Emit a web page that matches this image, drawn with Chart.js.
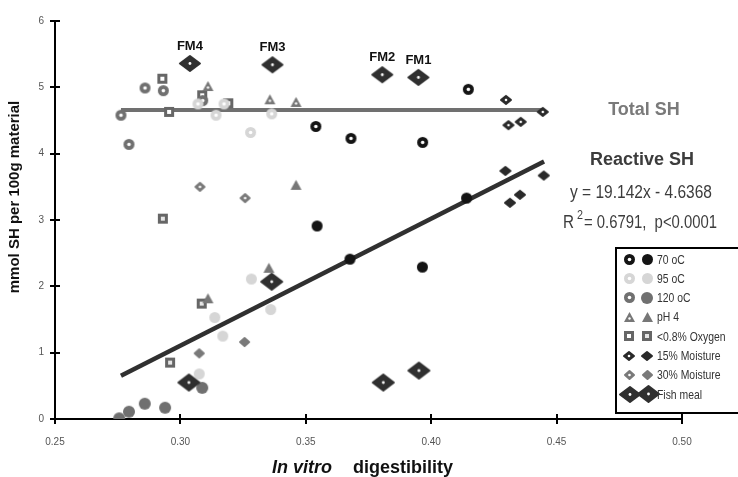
<!DOCTYPE html>
<html>
<head>
<meta charset="utf-8">
<script src="https://cdn.jsdelivr.net/npm/chart.js@4.4.1/dist/chart.umd.min.js"></script>
<style>
  html, body { margin: 0; padding: 0; background: #fff; }
  canvas { display: block; }
</style>
</head>
<body>
<canvas id="shChart" width="738" height="477"></canvas>
<script>
// in vitro digestibility (x) vs mmol SH / 100 g (y); "Total" = open marks, "Reactive" = filled marks
const t70Total = [[0.354, 4.41], [0.368, 4.23], [0.3966, 4.17], [0.4148, 4.97]];
const t70Reactive = [[0.3545, 2.91], [0.3676, 2.41], [0.3965, 2.29], [0.4141, 3.33]];
const t95Total = [[0.307, 4.75], [0.3142, 4.58], [0.3174, 4.75], [0.328, 4.32], [0.3364, 4.60]];
const t95Reactive = [[0.3075, 0.68], [0.3137, 1.53], [0.3169, 1.25], [0.3283, 2.11], [0.336, 1.65]];
const t120Total = [[0.2763, 4.58], [0.2795, 4.14], [0.2859, 4.99], [0.2932, 4.95], [0.3089, 4.80]];
const t120Reactive = [[0.2756, 0.01], [0.2795, 0.11], [0.2858, 0.23], [0.2939, 0.17], [0.3087, 0.47]];
const ph4Total = [[0.311, 5.02], [0.3357, 4.82], [0.3461, 4.78]];
const ph4Reactive = [[0.311, 1.82], [0.3353, 2.28], [0.3461, 3.53]];
const oxyTotal = [[0.2928, 5.13], [0.2955, 4.63], [0.3087, 4.88], [0.3191, 4.76]];
const oxyReactive = [[0.293, 3.02], [0.2959, 0.85], [0.3085, 1.74]];
const m15Total = [[0.4298, 4.81], [0.4308, 4.43], [0.4357, 4.48], [0.4445, 4.63]];
const m15Reactive = [[0.4296, 3.74], [0.4314, 3.26], [0.4354, 3.38], [0.4449, 3.67]];
const m30Total = [[0.3078, 3.50], [0.3258, 3.33]];
const m30Reactive = [[0.3075, 0.99], [0.3256, 1.16]];
const fishTotal = [[0.3038, 5.36], [0.3367, 5.34], [0.3805, 5.19], [0.3949, 5.15]];
const fishReactive = [[0.3034, 0.55], [0.3364, 2.07], [0.3809, 0.55], [0.3951, 0.73]];
const fishNames = ["FM4", "FM3", "FM2", "FM1"];

const legendLabels = ["70 oC", "95 oC", "120 oC", "pH 4", "<0.8% Oxygen", "15% Moisture", "30% Moisture", "Fish meal"];

// fitted lines
const totalShMean = 4.66;
const totalShRange = [0.2763, 0.4445];
const regSlope = 19.142;
const regIntercept = -4.6368;
const regRange = [0.2763, 0.445];

const xTicks = [0.25, 0.30, 0.35, 0.40, 0.45, 0.50];
const yTicks = [0, 1, 2, 3, 4, 5, 6];

// ---- marker images ----
function canvasMarker(w, h, draw) {
  const c = document.createElement("canvas");
  c.width = w; c.height = h;
  draw(c.getContext("2d"), w / 2, h / 2);
  return c;
}
function ring(color, r, hole) {
  const s = Math.ceil(r * 2 + 2);
  return canvasMarker(s, s, (ctx, cx, cy) => {
    ctx.fillStyle = color;
    ctx.beginPath(); ctx.arc(cx, cy, r, 0, Math.PI * 2); ctx.fill();
    if (hole) {
      ctx.fillStyle = "#fff";
      ctx.beginPath(); ctx.arc(cx, cy, hole, 0, Math.PI * 2); ctx.fill();
    }
  });
}
function diamond(color, w, h, hole) {
  return canvasMarker(w + 4, h + 4, (ctx, cx, cy) => {
    ctx.fillStyle = color; ctx.strokeStyle = color;
    ctx.lineJoin = "round"; ctx.lineWidth = 2;
    ctx.beginPath();
    ctx.moveTo(cx, cy - h / 2 + 1); ctx.lineTo(cx + w / 2 - 1, cy);
    ctx.lineTo(cx, cy + h / 2 - 1); ctx.lineTo(cx - w / 2 + 1, cy);
    ctx.closePath(); ctx.fill(); ctx.stroke();
    if (hole) {
      ctx.fillStyle = "#fff";
      ctx.beginPath(); ctx.arc(cx, cy, hole, 0, Math.PI * 2); ctx.fill();
    }
  });
}
function triangle(color, w, h, hole) {
  return canvasMarker(w + 2, h + 2, (ctx, cx, cy) => {
    ctx.fillStyle = color;
    ctx.beginPath();
    ctx.moveTo(cx, cy - h / 2); ctx.lineTo(cx + w / 2, cy + h / 2); ctx.lineTo(cx - w / 2, cy + h / 2);
    ctx.closePath(); ctx.fill();
    if (hole) {
      ctx.fillStyle = "#fff";
      ctx.beginPath(); ctx.arc(cx, cy + 1.5, hole, 0, Math.PI * 2); ctx.fill();
    }
  });
}
function square(color, size, inner, innerColor) {
  return canvasMarker(size + 2, size + 2, (ctx, cx, cy) => {
    ctx.fillStyle = color;
    ctx.fillRect(cx - size / 2, cy - size / 2, size, size);
    ctx.fillStyle = innerColor;
    ctx.fillRect(cx - inner / 2, cy - inner / 2, inner, inner);
  });
}

const marks = {
  t70: [ring("#141414", 5.5, 1.8), ring("#141414", 5.5, 0)],
  t95: [ring("#d6d6d6", 5.5, 1.8), ring("#d6d6d6", 5.5, 0)],
  t120: [ring("#707070", 5.5, 1.8), ring("#707070", 6, 0)],
  ph4: [triangle("#777", 11, 10, 1.2), triangle("#777", 11, 10, 0)],
  oxy: [square("#666", 10, 4, "#fff"), square("#666", 10, 4, "#e6e6e6")],
  m15: [diamond("#2a2a2a", 12, 10, 1.3), diamond("#2a2a2a", 12, 10, 0)],
  m30: [diamond("#7a7a7a", 11, 10, 1.3), diamond("#7a7a7a", 11, 10, 0)],
  fish: [diamond("#303030", 22, 17, 1.4), diamond("#303030", 23, 18, 1.4)]
};
const legendMarks = [marks.t70, marks.t95, marks.t120, marks.ph4, marks.oxy, marks.m15, marks.m30, marks.fish];

function pts(arr) { return arr.map(p => ({ x: p[0], y: p[1] })); }
function scatter(label, arr, style) {
  return { type: "scatter", label, data: pts(arr), pointStyle: style, pointRadius: 6, pointHoverRadius: 6, order: 1 };
}

const totalLine = {
  type: "line", label: "Total SH",
  data: totalShRange.map(x => ({ x, y: totalShMean })),
  borderColor: "#707070", borderWidth: 4, pointRadius: 0, order: 20
};
const reactiveLine = {
  type: "line", label: "Reactive SH",
  data: regRange.map(x => ({ x, y: regSlope * x + regIntercept })),
  borderColor: "#303030", borderWidth: 4.5, pointRadius: 0, order: 20
};

// condensed text: squeeze horizontally by sx, left-aligned at x
function narrowText(ctx, text, x, y, sx) {
  ctx.save();
  ctx.translate(x, y);
  ctx.scale(sx, 1);
  ctx.textAlign = "left";
  ctx.fillText(text, 0, 0);
  ctx.restore();
}
// squeeze to a given width
function fitText(ctx, text, x, y, width) {
  narrowText(ctx, text, x, y, width / ctx.measureText(text).width);
}

const SANS = "'Liberation Sans', Arial, sans-serif";

// ---- extra drawing: ticks across axes, titles, notes, legend ----
const decor = {
  id: "decor",
  afterDraw(chart) {
    const { ctx, chartArea: a, scales: { x, y } } = chart;
    ctx.save();

    // short ticks crossing both axes
    ctx.strokeStyle = "#000"; ctx.lineWidth = 2;
    xTicks.forEach(v => {
      const px = Math.round(x.getPixelForValue(v));
      ctx.beginPath(); ctx.moveTo(px, a.bottom - 5); ctx.lineTo(px, a.bottom + 5); ctx.stroke();
    });
    yTicks.forEach(v => {
      const py = Math.round(y.getPixelForValue(v));
      ctx.beginPath(); ctx.moveTo(a.left - 5, py); ctx.lineTo(a.left + 5, py); ctx.stroke();
    });

    // fish meal tags
    ctx.fillStyle = "#111";
    ctx.font = "bold 13px " + SANS;
    ctx.textAlign = "center"; ctx.textBaseline = "middle";
    fishTotal.forEach((p, i) => {
      ctx.fillText(fishNames[i], x.getPixelForValue(p[0]), y.getPixelForValue(p[1]) - 17);
    });

    // axis titles
    ctx.font = "bold italic 18px " + SANS;
    ctx.textAlign = "left";
    ctx.fillText("In vitro", 272, 468);
    ctx.font = "bold 18px " + SANS;
    ctx.fillText("digestibility", 353, 468);

    ctx.save();
    ctx.translate(15, 197);
    ctx.rotate(-Math.PI / 2);
    ctx.textAlign = "center";
    ctx.font = "bold 15px " + SANS;
    ctx.fillText("mmol SH per 100g material", 0, 0);
    ctx.restore();

    // line notes
    ctx.textAlign = "center";
    ctx.fillStyle = "#7a7a7a";
    ctx.font = "bold 18px " + SANS;
    ctx.fillText("Total SH", 644, 110);
    ctx.fillStyle = "#3c3c3c";
    ctx.fillText("Reactive SH", 642, 160);
    ctx.font = "18px " + SANS;
    fitText(ctx, "y = 19.142x - 4.6368", 570, 193, 142);
    fitText(ctx, "R", 563, 223, 11);
    ctx.font = "13px " + SANS;
    fitText(ctx, "2", 577, 215, 6);
    ctx.font = "18px " + SANS;
    fitText(ctx, "= 0.6791,  p<0.0001", 584, 223, 133);

    // legend box
    ctx.fillStyle = "#fff";
    ctx.fillRect(616, 248, 130, 165);
    ctx.strokeStyle = "#000"; ctx.lineWidth = 2;
    ctx.strokeRect(616, 248, 130, 165);
    ctx.font = "13px " + SANS;
    ctx.fillStyle = "#333";
    legendLabels.forEach((lab, i) => {
      const cy = 259 + i * 19.3;
      const [open, filled] = legendMarks[i];
      const big = i === legendLabels.length - 1;
      const x1 = big ? 630 : 629, x2 = big ? 648 : 647;
      ctx.drawImage(open, Math.round(x1 - open.width / 2), Math.round(cy - open.height / 2));
      ctx.drawImage(filled, Math.round(x2 - filled.width / 2), Math.round(cy - filled.height / 2));
      narrowText(ctx, lab, 657, cy + 1, 0.8);
    });

    ctx.restore();
  }
};

const tickFont = { family: SANS, size: 10 };

new Chart(document.getElementById("shChart"), {
  data: {
    datasets: [
      scatter("Fish meal total", fishTotal, marks.fish[0]),
      scatter("Fish meal reactive", fishReactive, marks.fish[1]),
      scatter("70 oC total", t70Total, marks.t70[0]),
      scatter("70 oC reactive", t70Reactive, marks.t70[1]),
      scatter("95 oC total", t95Total, marks.t95[0]),
      scatter("95 oC reactive", t95Reactive, marks.t95[1]),
      scatter("120 oC total", t120Total, marks.t120[0]),
      scatter("120 oC reactive", t120Reactive, marks.t120[1]),
      scatter("pH 4 total", ph4Total, marks.ph4[0]),
      scatter("pH 4 reactive", ph4Reactive, marks.ph4[1]),
      scatter("<0.8% Oxygen total", oxyTotal, marks.oxy[0]),
      scatter("<0.8% Oxygen reactive", oxyReactive, marks.oxy[1]),
      scatter("15% Moisture total", m15Total, marks.m15[0]),
      scatter("15% Moisture reactive", m15Reactive, marks.m15[1]),
      scatter("30% Moisture total", m30Total, marks.m30[0]),
      scatter("30% Moisture reactive", m30Reactive, marks.m30[1]),
      totalLine,
      reactiveLine
    ]
  },
  options: {
    responsive: false,
    animation: false,
    layout: { padding: { top: 21, right: 56, left: 0, bottom: 0 } },
    plugins: { legend: { display: false }, tooltip: { enabled: false } },
    scales: {
      x: {
        type: "linear", min: 0.25, max: 0.5,
        afterBuildTicks: s => { s.ticks = xTicks.map(v => ({ value: v })); },
        afterFit: s => { s.height = 58; },
        grid: { display: false },
        border: { display: true, color: "#000", width: 2 },
        ticks: { padding: 9, color: "#555", font: tickFont, callback: v => v.toFixed(2), maxRotation: 0 }
      },
      y: {
        type: "linear", min: 0, max: 6,
        afterBuildTicks: s => { s.ticks = yTicks.map(v => ({ value: v })); },
        afterFit: s => { s.width = 55; },
        grid: { display: false },
        border: { display: true, color: "#000", width: 2 },
        ticks: { padding: 3, color: "#555", font: tickFont }
      }
    }
  },
  plugins: [decor]
});
</script>
</body>
</html>
